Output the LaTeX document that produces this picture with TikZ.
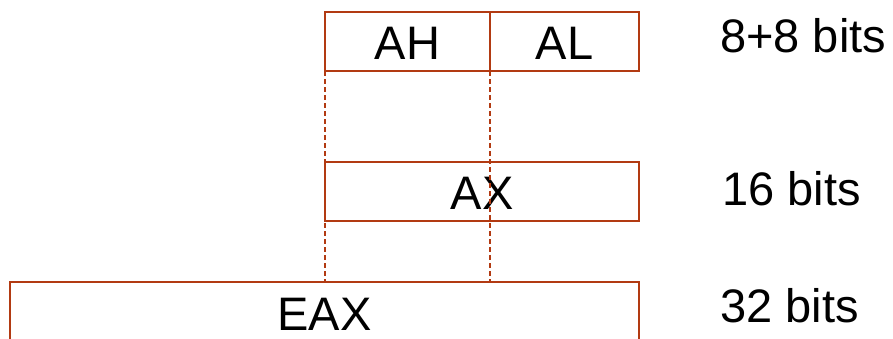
\documentclass[tikz,border=0pt]{standalone}
\usepackage{fontspec}
\setmainfont{Liberation Sans}
\definecolor{regline}{RGB}{178,58,18}
\begin{document}
\begin{tikzpicture}[x=1pt,y=-1pt,
  reg/.style={draw=regline,line width=2.6pt,rectangle,inner sep=0pt,outer sep=0pt,
    font=\fontsize{47}{56}\selectfont,text=black,text height=36.7pt,text depth=0pt},
  width/.style={anchor=base west,inner sep=0pt,font=\fontsize{47}{56}\selectfont},
  guide/.style={draw=regline,line width=1.8pt,dash pattern=on 5pt off 3pt}]
\useasboundingbox (0,0) rectangle (893,338);
\begin{scope}
\clip (0,0) rectangle (893,338);
% register boxes
\node[reg,minimum width=165pt,minimum height=59pt] (AH) at (407.5,41.5) {AH};
\node[reg,minimum width=149pt,minimum height=59pt] (AL) at (564.5,41.5) {AL};
\node[reg,minimum width=314pt,minimum height=59pt] (AX) at (482,191.5) {AX};
\node[reg,minimum width=629pt,minimum height=60pt] (EAX) at (324.5,312) {EAX};
% guides from the byte boundaries down to the 32-bit register
\coordinate (hl) at (AH.south east |- EAX.north);
\draw[guide] (AH.south west) -- (AH.south west |- EAX.north);
\draw[guide] (AH.south east) -- (hl);
\end{scope}
% sizes
\node[width] (w8) at (720,52) {8+8 bits};
\node[width] (w16) at (722,205) {16 bits};
\node[width] (w32) at (720,322) {32 bits};
\end{tikzpicture}
\end{document}
